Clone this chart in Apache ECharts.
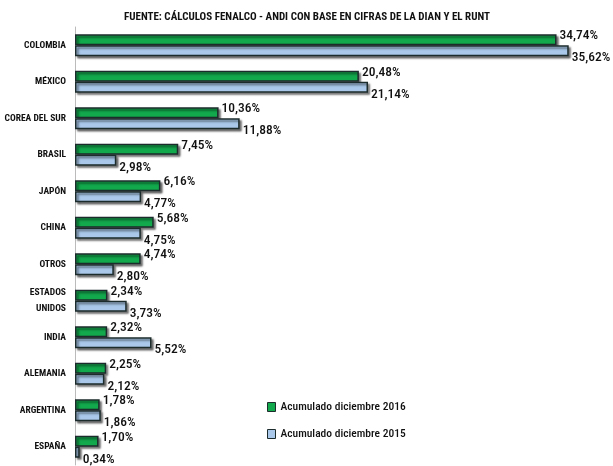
<!DOCTYPE html>
<html><head><meta charset="utf-8">
<script src="https://cdn.jsdelivr.net/npm/echarts@6/dist/echarts.min.js"></script>
<style>html,body{margin:0;padding:0;background:#fff}#c{width:613px;height:466px}</style>
</head><body><div id="c"></div>
<script>
const categories = ['COLOMBIA','MÉXICO','COREA DEL SUR','BRASIL','JAPÓN','CHINA','OTROS','ESTADOS\nUNIDOS','INDIA','ALEMANIA','ARGENTINA','ESPAÑA'];
const values2016 = [34.74,20.48,10.36,7.45,6.16,5.68,4.74,2.34,2.32,2.25,1.78,1.70];
const values2015 = [35.62,21.14,11.88,2.98,4.77,4.75,2.80,3.73,5.52,2.12,1.86,0.34];
const seriesNames = ['Acumulado diciembre 2016','Acumulado diciembre 2015'];
const titleText = 'FUENTE: CÁLCULOS FENALCO - ANDI CON BASE EN CIFRAS DE LA DIAN Y EL RUNT';

const FONT = '"Liberation Sans Narrow","Roboto Condensed",Roboto,sans-serif';
const chart = echarts.init(document.getElementById('c'));
const fmt = p => p.value.toFixed(2).replace('.', ',') + '%';
const barStyle = (c) => ({color:c, borderColor:'#1c2b2b', borderWidth:1.5, shadowColor:'rgba(0,0,0,0.5)', shadowBlur:2, shadowOffsetX:2, shadowOffsetY:2});
chart.setOption({
  animation:false,
  title:{text:titleText, left:302, top:7, textAlign:'center', textStyle:{fontFamily:FONT, fontSize:11, fontWeight:'bold', color:'#111'}},
  legend:{orient:'vertical', left:262, top:396, itemWidth:8, itemHeight:9, itemGap:15, icon:'rect',
    textStyle:{fontFamily:FONT, fontSize:11.5, fontWeight:500, color:'#111'},
    data:[{name:seriesNames[0], itemStyle:{borderColor:'#1c2b2b',borderWidth:1}},{name:seriesNames[1], itemStyle:{borderColor:'#1c2b2b',borderWidth:1}}]},
  grid:{left:75, top:27, width:499, bottom:1, outerBoundsMode:'none', containLabel:false},
  xAxis:{type:'value', min:0, max:36, show:false},
  yAxis:{type:'category', inverse:true, data:categories,
    axisLine:{show:true, lineStyle:{color:'#bbb', width:1}}, axisTick:{show:false},
    axisLabel:{fontFamily:FONT, fontSize:9.5, fontWeight:'bold', color:'#111', margin:9, lineHeight:16, align:'right'}},
  series:[
    {name:seriesNames[0], type:'bar', data:values2016, barWidth:11, barGap:'0%', itemStyle:barStyle('#12a84c'),
      label:{show:true, position:'right', distance:3, offset:[0,-4], formatter:fmt, fontFamily:FONT, fontSize:13.5, fontWeight:500, color:'#111'}},
    {name:seriesNames[1], type:'bar', data:values2015, barWidth:11, itemStyle:barStyle('#a9c8ea'),
      label:{show:true, position:'right', distance:3, offset:[0,7], formatter:fmt, fontFamily:FONT, fontSize:13.5, fontWeight:500, color:'#111'}}
  ]
});
</script></body></html>
